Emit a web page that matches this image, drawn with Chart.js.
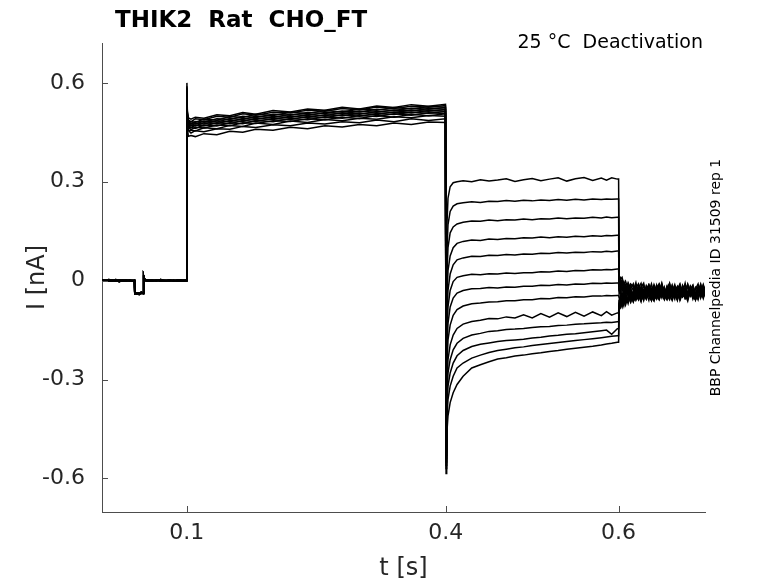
<!DOCTYPE html>
<html>
<head>
<meta charset="utf-8">
<title>THIK2 Rat CHO_FT</title>
<script src="https://cdn.jsdelivr.net/npm/chart.js@4.4.1/dist/chart.umd.min.js"></script>
<style>
  html, body { margin: 0; padding: 0; background: #fff; }
  canvas { display: block; }
</style>
</head>
<body>
<canvas id="traces" width="778" height="583"></canvas>
<script>
// tick values / labels
var xTicks = [0.1, 0.4, 0.6];
var xTickLabels = ['0.1', '0.4', '0.6'];
var yTicks = [-0.6, -0.3, 0, 0.3, 0.6];
var yTickLabels = ['-0.6', '-0.3', '0', '0.3', '0.6'];

// holding period (s) and three overlapping baseline versions (nA)
var tBase = [0.002, 0.006, 0.01, 0.014, 0.018, 0.022, 0.026, 0.03, 0.034, 0.038, 0.0396, 0.0399, 0.0425, 0.045, 0.0475, 0.0499, 0.0502, 0.0508, 0.052, 0.055, 0.06, 0.065, 0.07, 0.075, 0.08, 0.085, 0.09, 0.095, 0.0996];
var baseA = [0.002, -0.001, 0.003, 0.000, -0.002, 0.002, 0.001, -0.001, 0.002, 0.000, 0.001, -0.036, -0.040, -0.037, -0.039, -0.036, 0.014, 0.008, 0.003, 0.001, 0.002, -0.001, 0.003, 0.000, 0.002, -0.001, 0.003, 0.001, 0.002];
var baseB = [-0.002, 0.001, -0.001, 0.002, 0.000, -0.003, 0.001, 0.002, -0.001, 0.001, -0.002, -0.040, -0.037, -0.042, -0.038, -0.040, 0.016, 0.006, 0.001, -0.002, 0.000, 0.002, -0.002, 0.001, -0.001, 0.002, -0.002, 0.000, -0.001];
var baseC = [0.000, 0.002, -0.002, -0.001, 0.003, 0.000, -0.002, 0.001, 0.000, -0.002, 0.000, -0.038, -0.041, -0.039, -0.035, -0.038, 0.012, 0.005, 0.000, 0.002, -0.002, 0.001, 0.000, -0.002, 0.001, 0.000, 0.000, -0.002, 0.001];

// activating pulse
var tAct = [0.1003, 0.1008, 0.102, 0.105, 0.11, 0.12, 0.135, 0.15, 0.165, 0.18, 0.2, 0.22, 0.24, 0.26, 0.28, 0.3, 0.32, 0.34, 0.36, 0.38, 0.3996];
var sweepAct = [
  [0.600, 0.515, 0.494, 0.490, 0.496, 0.493, 0.503, 0.500, 0.510, 0.505, 0.516, 0.512, 0.521, 0.517, 0.526, 0.521, 0.530, 0.525, 0.534, 0.529, 0.535],
  [0.590, 0.510, 0.488, 0.482, 0.491, 0.488, 0.499, 0.496, 0.506, 0.502, 0.511, 0.509, 0.517, 0.514, 0.522, 0.518, 0.527, 0.522, 0.529, 0.526, 0.531],
  [0.585, 0.505, 0.481, 0.483, 0.480, 0.490, 0.487, 0.498, 0.495, 0.505, 0.501, 0.511, 0.507, 0.516, 0.512, 0.521, 0.517, 0.525, 0.521, 0.528, 0.526],
  [0.580, 0.502, 0.484, 0.476, 0.483, 0.481, 0.491, 0.489, 0.499, 0.495, 0.505, 0.502, 0.510, 0.507, 0.515, 0.512, 0.520, 0.516, 0.523, 0.520, 0.525],
  [0.575, 0.500, 0.475, 0.477, 0.475, 0.484, 0.481, 0.492, 0.489, 0.499, 0.495, 0.505, 0.501, 0.510, 0.506, 0.514, 0.511, 0.518, 0.515, 0.522, 0.520],
  [0.570, 0.497, 0.478, 0.470, 0.477, 0.475, 0.485, 0.482, 0.492, 0.489, 0.498, 0.495, 0.504, 0.500, 0.509, 0.505, 0.513, 0.510, 0.517, 0.514, 0.519],
  [0.565, 0.495, 0.470, 0.472, 0.469, 0.479, 0.476, 0.486, 0.483, 0.493, 0.489, 0.499, 0.495, 0.503, 0.500, 0.508, 0.504, 0.512, 0.509, 0.516, 0.514],
  [0.560, 0.490, 0.472, 0.464, 0.472, 0.469, 0.479, 0.476, 0.486, 0.483, 0.492, 0.489, 0.498, 0.494, 0.503, 0.499, 0.507, 0.504, 0.511, 0.508, 0.513],
  [0.555, 0.487, 0.463, 0.465, 0.462, 0.472, 0.469, 0.479, 0.476, 0.486, 0.482, 0.492, 0.488, 0.497, 0.493, 0.501, 0.498, 0.506, 0.502, 0.509, 0.507],
  [0.550, 0.484, 0.466, 0.458, 0.465, 0.463, 0.472, 0.470, 0.479, 0.477, 0.485, 0.483, 0.491, 0.488, 0.496, 0.492, 0.501, 0.496, 0.505, 0.500, 0.506],
  [0.545, 0.480, 0.455, 0.457, 0.454, 0.464, 0.461, 0.471, 0.468, 0.478, 0.474, 0.484, 0.480, 0.489, 0.485, 0.493, 0.490, 0.497, 0.494, 0.501, 0.499],
  [0.540, 0.474, 0.456, 0.448, 0.455, 0.452, 0.461, 0.459, 0.468, 0.465, 0.473, 0.470, 0.478, 0.475, 0.482, 0.479, 0.487, 0.482, 0.491, 0.486, 0.491],
  [0.535, 0.462, 0.438, 0.440, 0.437, 0.446, 0.443, 0.453, 0.450, 0.459, 0.456, 0.465, 0.461, 0.470, 0.466, 0.474, 0.470, 0.478, 0.474, 0.481, 0.480]
];

// deactivation step
var tDeact = [0.4003, 0.401, 0.4025, 0.405, 0.4085, 0.413, 0.42, 0.43, 0.44, 0.45, 0.46, 0.47, 0.48, 0.49, 0.50, 0.51, 0.52, 0.53, 0.54, 0.55, 0.56, 0.57, 0.58, 0.586, 0.592, 0.5985];
var sweepDeact = [
  [-0.460, 0.150, 0.250, 0.285, 0.297, 0.300, 0.303, 0.300, 0.306, 0.302, 0.305, 0.309, 0.301, 0.306, 0.310, 0.303, 0.308, 0.312, 0.302, 0.309, 0.313, 0.304, 0.311, 0.305, 0.312, 0.308],
  [-0.470, 0.070, 0.170, 0.210, 0.226, 0.233, 0.236, 0.239, 0.237, 0.241, 0.240, 0.243, 0.241, 0.244, 0.242, 0.245, 0.243, 0.246, 0.244, 0.247, 0.245, 0.248, 0.246, 0.248, 0.247, 0.248],
  [-0.480, 0.000, 0.100, 0.145, 0.163, 0.172, 0.177, 0.181, 0.180, 0.184, 0.182, 0.185, 0.184, 0.187, 0.185, 0.188, 0.187, 0.190, 0.188, 0.190, 0.189, 0.192, 0.190, 0.193, 0.191, 0.192],
  [-0.490, -0.070, 0.030, 0.075, 0.100, 0.113, 0.119, 0.123, 0.122, 0.126, 0.125, 0.128, 0.127, 0.130, 0.129, 0.132, 0.130, 0.133, 0.132, 0.135, 0.133, 0.136, 0.135, 0.137, 0.136, 0.138],
  [-0.500, -0.130, -0.030, 0.020, 0.048, 0.063, 0.069, 0.074, 0.073, 0.077, 0.076, 0.079, 0.078, 0.081, 0.080, 0.083, 0.082, 0.085, 0.084, 0.086, 0.085, 0.088, 0.087, 0.089, 0.088, 0.090],
  [-0.510, -0.180, -0.080, -0.030, -0.003, 0.010, 0.015, 0.019, 0.018, 0.021, 0.020, 0.023, 0.022, 0.024, 0.024, 0.027, 0.026, 0.029, 0.028, 0.031, 0.030, 0.033, 0.032, 0.034, 0.033, 0.035],
  [-0.520, -0.230, -0.130, -0.080, -0.053, -0.038, -0.030, -0.025, -0.024, -0.021, -0.022, -0.019, -0.020, -0.017, -0.017, -0.014, -0.015, -0.012, -0.013, -0.010, -0.011, -0.008, -0.009, -0.007, -0.008, -0.007],
  [-0.530, -0.280, -0.180, -0.135, -0.105, -0.088, -0.077, -0.070, -0.068, -0.065, -0.064, -0.061, -0.061, -0.058, -0.058, -0.054, -0.055, -0.051, -0.052, -0.049, -0.050, -0.047, -0.047, -0.045, -0.046, -0.045],
  [-0.540, -0.330, -0.240, -0.195, -0.165, -0.145, -0.132, -0.124, -0.120, -0.115, -0.116, -0.110, -0.113, -0.104, -0.113, -0.100, -0.111, -0.098, -0.109, -0.096, -0.108, -0.095, -0.106, -0.094, -0.105, -0.098],
  [-0.550, -0.370, -0.280, -0.240, -0.210, -0.190, -0.175, -0.165, -0.160, -0.154, -0.152, -0.148, -0.147, -0.145, -0.142, -0.140, -0.139, -0.136, -0.135, -0.132, -0.131, -0.129, -0.128, -0.126, -0.127, -0.125],
  [-0.560, -0.400, -0.320, -0.280, -0.250, -0.228, -0.212, -0.200, -0.193, -0.189, -0.185, -0.182, -0.180, -0.178, -0.174, -0.172, -0.168, -0.166, -0.163, -0.161, -0.158, -0.155, -0.152, -0.150, -0.163, -0.146],
  [-0.570, -0.430, -0.360, -0.320, -0.290, -0.265, -0.250, -0.235, -0.226, -0.218, -0.212, -0.208, -0.204, -0.201, -0.197, -0.194, -0.191, -0.188, -0.185, -0.182, -0.179, -0.176, -0.173, -0.171, -0.169, -0.167],
  [-0.585, -0.470, -0.410, -0.370, -0.340, -0.315, -0.290, -0.265, -0.255, -0.246, -0.238, -0.234, -0.229, -0.226, -0.222, -0.219, -0.215, -0.212, -0.208, -0.205, -0.202, -0.199, -0.195, -0.192, -0.190, -0.187]
];

// tail currents after the step back (noisy)
var tTail = [0.6, 0.6006, 0.602, 0.604, 0.606, 0.608, 0.611, 0.614, 0.617, 0.620, 0.623, 0.626, 0.629, 0.632, 0.635, 0.638, 0.641, 0.644, 0.647, 0.650, 0.653, 0.656, 0.659, 0.662, 0.665, 0.668, 0.671, 0.674, 0.677, 0.680, 0.683, 0.686, 0.689, 0.692, 0.695, 0.698, 0.7];
var sweepTail = [
  [0.308, 0.016, 0.004, 0.010, -0.012, -0.002, -0.026, -0.010, -0.018, -0.040, -0.022, -0.008, -0.044, -0.030, -0.014, -0.036, -0.048, -0.020, -0.010, -0.042, -0.028, -0.046, -0.012, -0.034, -0.024, -0.050, -0.016, -0.038, -0.008, -0.044, -0.026, -0.014, -0.048, -0.032, -0.010, -0.040, -0.022],
  [0.248, 0.008, -0.010, 0.002, -0.020, -0.032, -0.006, -0.024, -0.044, -0.014, -0.036, -0.020, -0.008, -0.046, -0.028, -0.040, -0.012, -0.030, -0.050, -0.018, -0.026, -0.042, -0.010, -0.048, -0.022, -0.034, -0.014, -0.044, -0.030, -0.012, -0.038, -0.052, -0.020, -0.028, -0.046, -0.016, -0.032],
  [0.192, 0.002, 0.008, -0.016, -0.004, -0.028, -0.038, -0.012, -0.030, -0.006, -0.042, -0.024, -0.046, -0.016, -0.034, -0.010, -0.040, -0.026, -0.048, -0.014, -0.036, -0.022, -0.008, -0.044, -0.030, -0.018, -0.050, -0.026, -0.012, -0.040, -0.034, -0.016, -0.046, -0.024, -0.038, -0.012, -0.028],
  [0.138, -0.008, -0.022, -0.004, -0.030, -0.014, -0.040, -0.024, -0.010, -0.046, -0.032, -0.018, -0.050, -0.026, -0.012, -0.038, -0.044, -0.020, -0.034, -0.008, -0.042, -0.028, -0.048, -0.016, -0.036, -0.024, -0.052, -0.014, -0.030, -0.044, -0.018, -0.040, -0.026, -0.010, -0.046, -0.032, -0.020],
  [0.090, -0.018, -0.004, -0.030, -0.020, -0.042, -0.012, -0.034, -0.048, -0.022, -0.010, -0.040, -0.028, -0.052, -0.016, -0.036, -0.024, -0.046, -0.012, -0.032, -0.050, -0.020, -0.038, -0.014, -0.044, -0.026, -0.010, -0.042, -0.030, -0.048, -0.018, -0.036, -0.024, -0.050, -0.014, -0.040, -0.030],
  [0.035, -0.028, -0.040, -0.016, -0.048, -0.026, -0.012, -0.044, -0.034, -0.054, -0.020, -0.038, -0.014, -0.046, -0.028, -0.052, -0.018, -0.032, -0.044, -0.010, -0.036, -0.050, -0.024, -0.042, -0.016, -0.030, -0.054, -0.022, -0.040, -0.012, -0.046, -0.028, -0.038, -0.018, -0.052, -0.026, -0.036],
  [-0.007, -0.040, -0.024, -0.052, -0.034, -0.018, -0.048, -0.026, -0.056, -0.038, -0.016, -0.044, -0.030, -0.054, -0.020, -0.036, -0.050, -0.014, -0.040, -0.028, -0.052, -0.022, -0.046, -0.032, -0.012, -0.042, -0.056, -0.024, -0.036, -0.048, -0.018, -0.034, -0.054, -0.026, -0.044, -0.016, -0.032],
  [-0.045, -0.050, -0.062, -0.036, -0.056, -0.044, -0.026, -0.058, -0.034, -0.048, -0.020, -0.052, -0.030, -0.044, -0.016, -0.054, -0.038, -0.024, -0.056, -0.032, -0.046, -0.018, -0.050, -0.028, -0.042, -0.058, -0.022, -0.036, -0.052, -0.014, -0.044, -0.030, -0.056, -0.024, -0.040, -0.050, -0.038],
  [-0.098, -0.060, -0.046, -0.068, -0.040, -0.058, -0.030, -0.064, -0.044, -0.024, -0.056, -0.036, -0.060, -0.020, -0.046, -0.032, -0.058, -0.026, -0.050, -0.016, -0.042, -0.056, -0.030, -0.048, -0.022, -0.054, -0.038, -0.018, -0.052, -0.034, -0.046, -0.024, -0.058, -0.036, -0.020, -0.050, -0.034],
  [-0.125, -0.066, -0.074, -0.050, -0.070, -0.038, -0.060, -0.046, -0.064, -0.030, -0.052, -0.040, -0.058, -0.026, -0.048, -0.060, -0.034, -0.054, -0.022, -0.044, -0.058, -0.030, -0.050, -0.036, -0.056, -0.020, -0.046, -0.032, -0.054, -0.040, -0.024, -0.056, -0.036, -0.048, -0.028, -0.054, -0.036],
  [-0.146, -0.070, -0.056, -0.076, -0.048, -0.068, -0.054, -0.036, -0.064, -0.044, -0.058, -0.028, -0.052, -0.038, -0.060, -0.024, -0.048, -0.056, -0.030, -0.052, -0.020, -0.044, -0.058, -0.034, -0.050, -0.026, -0.060, -0.040, -0.022, -0.054, -0.032, -0.048, -0.058, -0.026, -0.044, -0.034, -0.040],
  [-0.167, -0.076, -0.082, -0.058, -0.076, -0.046, -0.070, -0.040, -0.062, -0.050, -0.032, -0.060, -0.042, -0.056, -0.026, -0.050, -0.062, -0.034, -0.054, -0.024, -0.046, -0.058, -0.032, -0.052, -0.040, -0.060, -0.022, -0.048, -0.036, -0.056, -0.028, -0.050, -0.040, -0.058, -0.030, -0.046, -0.038],
  [-0.187, -0.082, -0.064, -0.080, -0.056, -0.074, -0.048, -0.066, -0.038, -0.060, -0.044, -0.064, -0.030, -0.054, -0.040, -0.060, -0.026, -0.048, -0.058, -0.034, -0.052, -0.022, -0.044, -0.060, -0.036, -0.054, -0.028, -0.050, -0.042, -0.062, -0.030, -0.046, -0.056, -0.026, -0.050, -0.040, -0.034]
];

var axisColor = '#4d4d4d';
var textColor = '#262626';
var fontName = "'DejaVu Sans', sans-serif";

// build one dataset per sweep
var baselines = [baseA, baseB, baseC];
var datasets = [];
for (var i = 0; i < sweepAct.length; i++) {
  var pts = [];
  var base = baselines[i % 3];
  tBase.forEach(function (t, k) { pts.push({ x: t, y: base[k] }); });
  tAct.forEach(function (t, k) { pts.push({ x: t, y: sweepAct[i][k] }); });
  tDeact.forEach(function (t, k) { pts.push({ x: t, y: sweepDeact[i][k] }); });
  tTail.forEach(function (t, k) { pts.push({ x: t, y: sweepTail[i][k] }); });
  datasets.push({
    label: 'sweep ' + (i + 1),
    data: pts,
    borderColor: '#000000',
    borderWidth: 1.5,
    pointRadius: 0,
    fill: false,
    tension: 0
  });
}

// inward ticks, axis titles and annotation texts
var extras = {
  id: 'extras',
  afterDraw: function (chart) {
    var c = chart.ctx, a = chart.chartArea;
    var sx = chart.scales.x, sy = chart.scales.y;
    c.save();
    c.strokeStyle = axisColor;
    c.lineWidth = 1;
    c.beginPath();
    xTicks.forEach(function (v) {
      var px = Math.round(sx.getPixelForValue(v)) + 0.5;
      c.moveTo(px, a.bottom);
      c.lineTo(px, a.bottom - 6);
    });
    yTicks.forEach(function (v) {
      var py = Math.round(sy.getPixelForValue(v)) + 0.5;
      c.moveTo(a.left, py);
      c.lineTo(a.left + 6, py);
    });
    c.stroke();

    c.fillStyle = textColor;
    c.font = '24px ' + fontName;
    c.textAlign = 'center';
    c.textBaseline = 'alphabetic';
    c.fillText('t [s]', (a.left + a.right) / 2, 575);

    c.save();
    c.translate(44, (a.top + a.bottom) / 2);
    c.rotate(-Math.PI / 2);
    c.fillText('I [nA]', 0, 0);
    c.restore();

    c.fillStyle = '#000000';
    c.font = 'bold 23px ' + fontName;
    c.textAlign = 'left';
    c.fillText('THIK2  Rat  CHO_FT', 115, 27);

    c.font = '19px ' + fontName;
    c.textAlign = 'right';
    c.fillText('25 \u00B0C  Deactivation', 703, 48);

    c.save();
    c.font = '14px ' + fontName;
    c.translate(716, (a.top + a.bottom) / 2);
    c.rotate(-Math.PI / 2);
    c.textAlign = 'center';
    c.textBaseline = 'middle';
    c.fillText('BBP Channelpedia ID 31509 rep 1', 0, 0);
    c.restore();

    c.restore();
  }
};

var ctx = document.getElementById('traces').getContext('2d');
var traceChart = new Chart(ctx, {
  type: 'line',
  data: { datasets: datasets },
  options: {
    responsive: false,
    animation: false,
    devicePixelRatio: 1,
    parsing: false,
    normalized: true,
    layout: { padding: { top: 43, right: 73, left: 0, bottom: 0 } },
    plugins: {
      legend: { display: false },
      tooltip: { enabled: false },
      title: { display: false }
    },
    scales: {
      x: {
        type: 'linear',
        min: 0.002,
        max: 0.7,
        afterBuildTicks: function (s) { s.ticks = xTicks.map(function (v) { return { value: v }; }); },
        afterFit: function (s) { s.height = 71; },
        grid: { display: false, drawTicks: false },
        border: { display: true, color: axisColor, width: 1 },
        ticks: {
          color: textColor,
          font: { family: fontName, size: 22 },
          padding: 8,
          maxRotation: 0,
          autoSkip: false,
          callback: function (v, idx) { return xTickLabels[idx]; }
        }
      },
      y: {
        type: 'linear',
        min: -0.702,
        max: 0.721,
        afterBuildTicks: function (s) { s.ticks = yTicks.map(function (v) { return { value: v }; }); },
        afterFit: function (s) { s.width = 102; },
        grid: { display: false, drawTicks: false },
        border: { display: true, color: axisColor, width: 1 },
        ticks: {
          color: textColor,
          font: { family: fontName, size: 22 },
          padding: 17,
          autoSkip: false,
          callback: function (v, idx) { return yTickLabels[idx]; }
        }
      }
    }
  },
  plugins: [extras]
});
</script>
</body>
</html>
